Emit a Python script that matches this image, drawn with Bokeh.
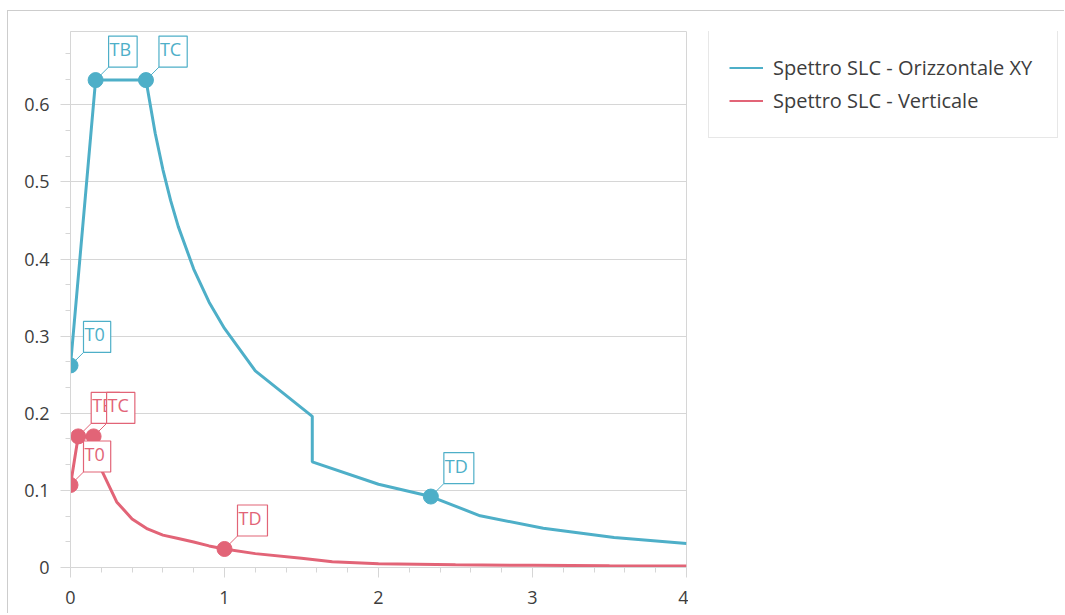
from bokeh.plotting import figure
from bokeh.layouts import row
from bokeh.models import (Range1d, SingleIntervalTicker, CustomJSTickFormatter,
                          Legend, LegendItem, Label)
from bokeh.embed import file_html
from bokeh.resources import INLINE

# ---------------- data ----------------
series_names = ["Spettro SLC - Orizzontale XY", "Spettro SLC - Verticale"]

h_T = [0.0, 0.163, 0.49, 0.55, 0.6, 0.65, 0.7, 0.8, 0.9, 1.0, 1.2, 1.57, 1.57,
       2.0, 2.34, 2.66, 3.07, 3.53, 4.0]
h_Se = [0.262, 0.632, 0.632, 0.563, 0.516, 0.476, 0.442, 0.387, 0.344, 0.310,
        0.255, 0.196, 0.137, 0.108, 0.092, 0.067, 0.051, 0.039, 0.031]

v_T = [0.0, 0.05, 0.15, 0.2, 0.3, 0.4, 0.5, 0.6, 0.7, 0.8, 0.9, 1.0, 1.2, 1.5,
       1.7, 2.0, 2.5, 3.0, 3.5, 4.0]
v_Se = [0.107, 0.17, 0.17, 0.127, 0.085, 0.063, 0.050, 0.042, 0.0375, 0.033,
        0.028, 0.024, 0.018, 0.012, 0.0075, 0.005, 0.0035, 0.0028, 0.0022, 0.0018]

h_key_names = ["T0", "TB", "TC", "TD"]
h_key_T = [0.0, 0.163, 0.49, 2.34]
h_key_Se = [0.262, 0.632, 0.632, 0.092]

v_key_names = ["T0", "TB", "TC", "TD"]
v_key_T = [0.0, 0.05, 0.15, 1.0]
v_key_Se = [0.107, 0.17, 0.17, 0.024]

x_min, x_max = 0.0, 4.0
y_min, y_max = 0.0, 0.695

# ---------------- style ----------------
BLUE = "#4EAFC8"
RED = "#E26477"
GRID = "#d6d6d6"
TXT = "#3d3d3d"
FONT = "Open Sans"

FRAME_W, FRAME_H = 616, 536
H = 602

p = figure(width=680, height=H, output_backend="svg", toolbar_location=None,
           x_range=Range1d(x_min, x_max), y_range=Range1d(y_min, y_max),
           min_border_left=62, min_border_top=20, min_border_bottom=46,
           min_border_right=2)
p.background_fill_color = "white"
p.border_fill_color = "white"
p.outline_line_color = GRID

p.xgrid.visible = False
p.ygrid.grid_line_color = GRID
p.ygrid.grid_line_width = 1

p.xaxis.ticker = SingleIntervalTicker(interval=1, num_minor_ticks=5)
p.yaxis.ticker = SingleIntervalTicker(interval=0.1, num_minor_ticks=3)
p.yaxis.formatter = CustomJSTickFormatter(code="return (Math.round(tick*10)/10).toString();")
for ax in (p.xaxis, p.yaxis):
    ax.axis_line_color = GRID
    ax.major_tick_line_color = GRID
    ax.minor_tick_line_color = GRID
    ax.major_tick_in = 0
    ax.major_tick_out = 10
    ax.minor_tick_in = 0
    ax.minor_tick_out = 5
    ax.major_label_text_font = FONT
    ax.major_label_text_font_size = "18px"
    ax.major_label_text_color = TXT
p.yaxis.major_label_standoff = 11
p.xaxis.major_label_standoff = 13

# curves
p.line(h_T, h_Se, line_color=BLUE, line_width=3)
p.line(v_T, v_Se, line_color=RED, line_width=3)

# key points
p.scatter(h_key_T, h_key_Se, size=15, fill_color=BLUE, line_color=BLUE)
p.scatter(v_key_T, v_key_Se, size=15, fill_color=RED, line_color=RED)

# connectors + labels
OFF_X, OFF_Y = 13, 13
dx = OFF_X * (x_max - x_min) / FRAME_W
dy = OFF_Y * (y_max - y_min) / FRAME_H
for names, ts, ses, col in ((h_key_names, h_key_T, h_key_Se, BLUE),
                            (v_key_names, v_key_T, v_key_Se, RED)):
    p.segment(ts, ses, [t + dx for t in ts], [s + dy for s in ses],
              line_color=col, line_width=1)
for names, ts, ses, col in ((h_key_names, h_key_T, h_key_Se, BLUE),
                            (v_key_names, v_key_T, v_key_Se, RED)):
    for n, t, s in zip(names, ts, ses):
        p.add_layout(Label(x=t, y=s, x_offset=OFF_X, y_offset=OFF_Y, text=n,
                           text_font=FONT, text_font_size="18px",
                           text_color=col, text_align="left",
                           text_baseline="bottom",
                           background_fill_color="white",
                           border_line_color=col, border_line_width=1.2,
                           padding=(1, 6, 1, 6)))

# ---------------- legend panel ----------------
pl = figure(width=376, height=H, output_backend="svg", toolbar_location=None,
            x_range=Range1d(100, 101), y_range=Range1d(100, 101),
            x_axis_location=None, y_axis_location=None,
            min_border_left=0, min_border_right=0, min_border_top=0,
            min_border_bottom=0)
pl.grid.visible = False
pl.outline_line_color = None
pl.background_fill_color = "white"
pl.border_fill_color = "white"
lh = pl.line(h_T, h_Se, line_color=BLUE, line_width=2)
lv = pl.line(v_T, v_Se, line_color=RED, line_width=2)
legend = Legend(items=[LegendItem(label=series_names[0], renderers=[lh]),
                       LegendItem(label=series_names[1], renderers=[lv])],
                location=(20, 429), padding=20, spacing=0, margin=0,
                glyph_width=34, glyph_height=33, label_height=33,
                label_width=264, label_standoff=10,
                border_line_color="#cfcfcf", border_line_width=1,
                background_fill_color="white", background_fill_alpha=1,
                label_text_font=FONT, label_text_font_size="20px",
                label_text_color=TXT)
pl.add_layout(legend)

layout = row(p, pl, spacing=0)
layout.margin = (10, 0, 0, 7)
layout.styles = {"border-top": "1px solid #cdcdcd", "border-left": "1px solid #cdcdcd"}

open("out.html", "w").write(file_html(layout, INLINE))
